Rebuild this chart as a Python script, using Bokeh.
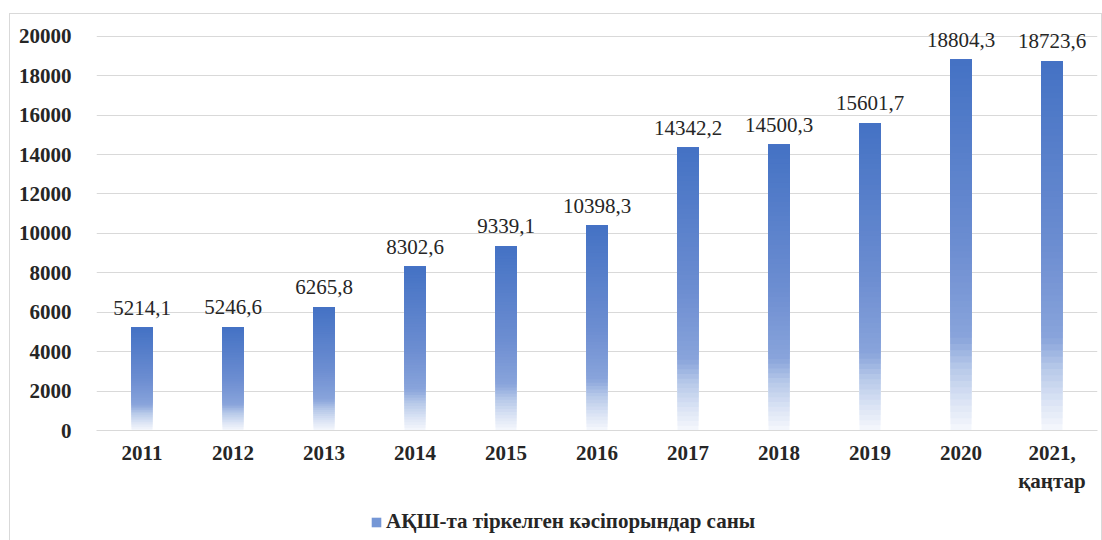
from bokeh.plotting import figure
from bokeh.layouts import column
from bokeh.models import FactorRange, Legend, LegendItem, ColumnDataSource, SingleIntervalTicker, NumeralTickFormatter, Range1d
from bokeh.embed import file_html
from bokeh.resources import INLINE

categories = ["2011", "2012", "2013", "2014", "2015", "2016", "2017", "2018", "2019", "2020", "2021,\nқаңтар"]
values = [5214.1, 5246.6, 6265.8, 8302.6, 9339.1, 10398.3, 14342.2, 14500.3, 15601.7, 18804.3, 18723.6]
labels = ["5214,1", "5246,6", "6265,8", "8302,6", "9339,1", "10398,3", "14342,2", "14500,3", "15601,7", "18804,3", "18723,6"]
series_name = "АҚШ-та тіркелген кәсіпорындар саны"

# gradient stops (fraction of bar height from bottom, rgb)
stops = [(0.0, (246, 248, 253)), (0.08, (218, 227, 244)), (0.17, (182, 200, 233)),
         (0.25, (137, 164, 219)), (0.5, (108, 141, 209)), (1.0, (68, 114, 196))]

def color_at(f):
    for (f0, c0), (f1, c1) in zip(stops[:-1], stops[1:]):
        if f0 <= f <= f1:
            t = (f - f0) / (f1 - f0)
            return "#%02x%02x%02x" % tuple(int(round(a + (b - a) * t)) for a, b in zip(c0, c1))
    return "#%02x%02x%02x" % stops[-1][1]

N = 60
xs, bottoms, tops, colors = [], [], [], []
for cat, v in zip(categories, values):
    for i in range(N):
        f0 = i / N
        xs.append(cat)
        bottoms.append(v * f0)
        tops.append(v)
        colors.append(color_at(f0 + 0.5 / N))

FONT = "Liberation Serif"

p = figure(x_range=FactorRange(*categories), y_range=(0, 21000),
           width=1091, height=490, output_backend="svg", toolbar_location=None,
           min_border_left=86, min_border_right=4, min_border_top=2, min_border_bottom=74)

src = ColumnDataSource(dict(x=xs, bottom=bottoms, top=tops, color=colors))
p.vbar(x="x", bottom="bottom", top="top", width=0.23, source=src, fill_color="color", line_color=None)

lab = ColumnDataSource(dict(x=categories, y=values, t=labels))
p.text(x="x", y="y", text="t", source=lab, text_align="center", text_baseline="bottom",
       y_offset=-13, text_font_size="21px", text_font={"value": FONT}, text_color="#262626")

p.outline_line_color = None
p.xgrid.grid_line_color = None
p.ygrid.grid_line_color = "#d9d9d9"
p.ygrid.grid_line_width = 1

p.yaxis.ticker = SingleIntervalTicker(interval=2000)
p.yaxis.axis_line_color = None
p.yaxis.major_tick_line_color = None
p.yaxis.minor_tick_line_color = None
p.yaxis.major_label_standoff = 19
p.yaxis.formatter = NumeralTickFormatter(format="0")

p.xaxis.axis_line_color = "#d9d9d9"
p.xaxis.major_tick_line_color = None
p.xaxis.minor_tick_line_color = None
p.xaxis.major_label_standoff = 4

for ax in (p.xaxis, p.yaxis):
    ax.major_label_text_font = FONT
    ax.major_label_text_font_style = "bold"
    ax.major_label_text_font_size = "21px"
    ax.major_label_text_color = "#262626"

# legend figure
lf = figure(width=1091, height=37, output_backend="svg", toolbar_location=None,
            x_range=Range1d(0, 1), y_range=Range1d(0, 1),
            min_border_left=0, min_border_right=0, min_border_top=0, min_border_bottom=0)
lf.axis.visible = False
lf.grid.visible = False
lf.outline_line_color = None
legend_r = lf.quad(left=[-5], right=[-4], bottom=[-5], top=[-4], fill_color="#7597d6", line_color=None)
legend = Legend(items=[LegendItem(label=series_name, renderers=[legend_r])],
                location=(274, 7), orientation="horizontal",
                label_text_font=FONT, label_text_font_style="bold",
                label_text_font_size="21px", label_text_color="#262626",
                glyph_width=12, glyph_height=12, border_line_color=None,
                background_fill_alpha=0, padding=0, margin=0, label_standoff=4,
                label_height=20)
lf.add_layout(legend)

layout = column(p, lf, spacing=0)
layout.styles = {"border": "1px solid #d9d9d9", "margin-left": "9px", "margin-top": "13px"}

open("out.html", "w").write(file_html(layout, INLINE))
